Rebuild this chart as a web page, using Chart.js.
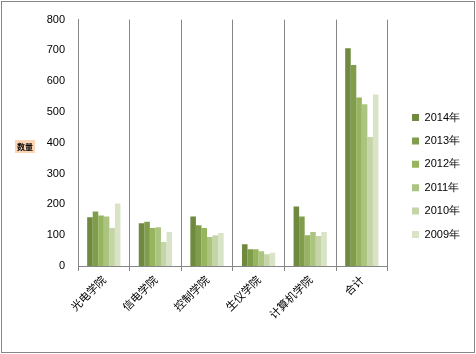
<!DOCTYPE html>
<html>
<head>
<meta charset="utf-8">
<script src="https://cdn.jsdelivr.net/npm/chart.js@4"></script>
<style>
  html, body { margin: 0; padding: 0; background: #fff; }
  #wrap { width: 476px; height: 354px; }
</style>
</head>
<body>
<div id="wrap"><canvas id="chart" width="476" height="354"></canvas></div>
<script>
// categories and series
const colleges = ['光电学院', '信电学院', '控制学院', '生仪学院', '计算机学院', '合计'];
const years = ['2014年', '2013年', '2012年', '2011年', '2010年', '2009年'];
const v2014 = [158, 139, 161, 71, 193, 707];
const v2013 = [177, 144, 132, 54, 161, 653];
const v2012 = [164, 123, 123, 54, 100, 547];
const v2011 = [161, 126, 94, 48, 110, 525];
const v2010 = [123, 78, 100, 38, 97, 419];
const v2009 = [203, 110, 107, 43, 110, 557];
const yTicks = [0, 100, 200, 300, 400, 500, 600, 700, 800];

const seriesValues = [v2014, v2013, v2012, v2011, v2010, v2009];
const colors = ['#6f8a3f', '#809d4b', '#97b55f', '#abc47f', '#c5d5a7', '#d9e3c7'];

const lineGray = '#868686';

// frame + y axis title box
const decor = {
  id: 'decor',
  beforeDraw(chart) {
    const ctx = chart.ctx;
    ctx.save();
    ctx.fillStyle = '#fff';
    ctx.fillRect(0, 0, chart.width, chart.height);
    ctx.strokeStyle = lineGray;
    ctx.lineWidth = 1;
    ctx.strokeRect(1.5, 1.5, chart.width - 3, chart.height - 3);
    ctx.restore();
  },
  afterDraw(chart) {
    const ctx = chart.ctx;
    ctx.save();
    ctx.fillStyle = '#fcd5b5';
    ctx.fillRect(15, 140, 20, 13);
    ctx.fillStyle = '#000';
    ctx.font = 'bold 8px "Noto Sans CJK SC"';
    ctx.textAlign = 'center';
    ctx.textBaseline = 'middle';
    ctx.fillText('数量', 25, 146.5);
    ctx.restore();
  }
};

const chartData = {
  labels: colleges,
  datasets: years.map((y, i) => ({
    label: y,
    data: seriesValues[i],
    backgroundColor: colors[i],
    borderWidth: 0,
    categoryPercentage: 0.645,
    barPercentage: 1.0
  }))
};

const chart = new Chart(document.getElementById('chart'), {
  type: 'bar',
  data: chartData,
  options: {
    responsive: false,
    animation: false,
    layout: { padding: { top: 13, left: 0, right: 6, bottom: 15 } },
    scales: {
      x: {
        grid: { display: true, offset: true, color: lineGray, drawOnChartArea: true, tickLength: 5 },
        border: { display: true, color: lineGray },
        ticks: {
          color: '#000',
          font: { family: '"Noto Sans CJK SC"', size: 11 },
          minRotation: 45,
          maxRotation: 45,
          padding: 2
        },
        afterFit(s) { s.height = 73; }
      },
      y: {
        min: 0,
        max: 800,
        afterBuildTicks(s) { s.ticks = yTicks.map(v => ({ value: v })); },
        grid: { display: false, drawTicks: false },
        border: { display: true, color: lineGray },
        ticks: {
          color: '#000',
          font: { family: '"Liberation Sans", Arial', size: 11 },
          padding: 13
        },
        afterFit(s) { s.width = 78; }
      },
      gap: {
        position: 'right',
        display: true,
        grid: { display: false, drawTicks: false },
        border: { display: false },
        ticks: { display: false },
        afterFit(s) { s.width = 12; }
      }
    },
    plugins: {
      legend: {
        position: 'right',
        labels: {
          boxWidth: 7,
          boxHeight: 7,
          padding: 12.4,
          color: '#000',
          font: { family: '"Liberation Sans", Arial', size: 11 }
        }
      },
      tooltip: { enabled: false }
    }
  },
  plugins: [decor]
});
</script>
</body>
</html>
